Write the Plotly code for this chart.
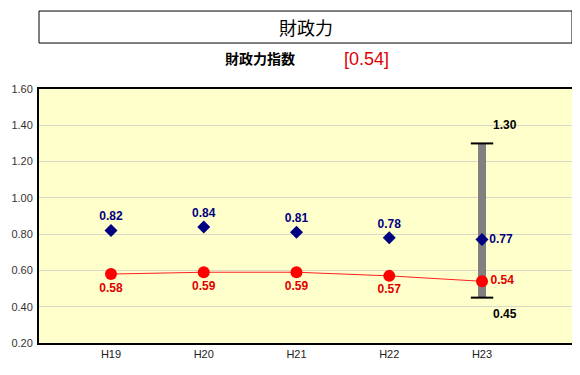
import plotly.graph_objects as go

categories = ["H19", "H20", "H21", "H22", "H23"]
city_values = [0.58, 0.59, 0.59, 0.57, 0.54]
avg_values = [0.82, 0.84, 0.81, 0.78, 0.77]
range_low = 0.45
range_high = 1.30
headline_value = "0.54"
y_ticks = [0.2, 0.4, 0.6, 0.8, 1.0, 1.2, 1.4, 1.6]

xi = list(range(len(categories)))
last = xi[-1]
n = len(categories)

lab_font = "Liberation Sans, Arial"

fig = go.Figure()

# range bar
fig.add_trace(go.Scatter(x=[last, last], y=[range_low, range_high], mode="lines",
                         line=dict(color="#808080", width=8), hoverinfo="skip", showlegend=False))
fig.add_trace(go.Scatter(x=[last, last], y=[range_low, range_high], mode="markers+text",
                         marker=dict(symbol="line-ew", size=16, line=dict(color="black", width=2)),
                         text=[f"<b>{range_low:.2f}</b>", f"<b>{range_high:.2f}</b>"],
                         textposition=["bottom right", "top right"],
                         textfont=dict(family=lab_font, size=12, color="black"),
                         showlegend=False))
# red line
fig.add_trace(go.Scatter(x=xi, y=city_values, mode="lines+markers+text",
                         line=dict(color="#FF2020", width=1),
                         marker=dict(symbol="circle", size=12, color="#FF0000"),
                         text=[f"<b>{v:.2f}</b>" for v in city_values],
                         textposition=["bottom center"] * (n - 1) + ["middle right"],
                         textfont=dict(family=lab_font, size=12, color="#E00000"),
                         showlegend=False))
# blue diamonds
fig.add_trace(go.Scatter(x=xi, y=avg_values, mode="markers+text",
                         marker=dict(symbol="diamond", size=10, color="#000080"),
                         text=[f"<b>{v:.2f}</b>" for v in avg_values],
                         textposition=["top center"] * (n - 1) + ["middle right"],
                         textfont=dict(family=lab_font, size=12, color="#000080"),
                         showlegend=False))

# page body adds 8px margin, so the figure is offset by -8px
fig.update_layout(
    width=572, height=367,
    margin=dict(l=31, r=8, t=81, b=32),
    paper_bgcolor="white",
    plot_bgcolor="#FFFFCC",
    xaxis=dict(range=[-0.776, 4.97], tickmode="array", tickvals=xi, ticktext=categories,
               showgrid=False, zeroline=False, showline=True, linecolor="black", linewidth=2,
               mirror=True, ticks="", automargin=False,
               tickfont=dict(family=lab_font, size=11, color="#222")),
    yaxis=dict(range=[0.2, 1.6], tickmode="array", tickvals=y_ticks,
               ticktext=[f"{v:.2f}" for v in y_ticks],
               showgrid=True, gridcolor="#D8D8C8", gridwidth=1, zeroline=False,
               showline=True, linecolor="black", linewidth=2, mirror=True, ticks="",
               automargin=False, ticklabelstandoff=2,
               tickfont=dict(family=lab_font, size=11, color="#333")),
)

fig.add_shape(type="rect", xref="paper", yref="paper", x0=0, x1=1, y0=1.181, y1=1.307,
              line=dict(color="black", width=1), fillcolor="white")
fig.add_annotation(xref="paper", yref="paper", x=0.5, y=1.244, text="財政力", showarrow=False,
                   font=dict(family="Noto Sans CJK JP", size=18, color="black"), yanchor="middle")
fig.add_annotation(xref="paper", yref="paper", x=(260 - 39) / 533, y=1 + (89 - 58) / 254,
                   text="<b>財政力指数</b>", showarrow=False, yanchor="middle",
                   font=dict(family="Noto Sans CJK JP", size=14, color="black"))
fig.add_annotation(xref="paper", yref="paper", x=(366 - 39) / 533, y=1 + (89 - 59) / 254,
                   text=f"[{headline_value}]", showarrow=False, yanchor="middle",
                   font=dict(family="Liberation Sans, Arial", size=18, color="#E00000"))

fig.write_html("out.html")
